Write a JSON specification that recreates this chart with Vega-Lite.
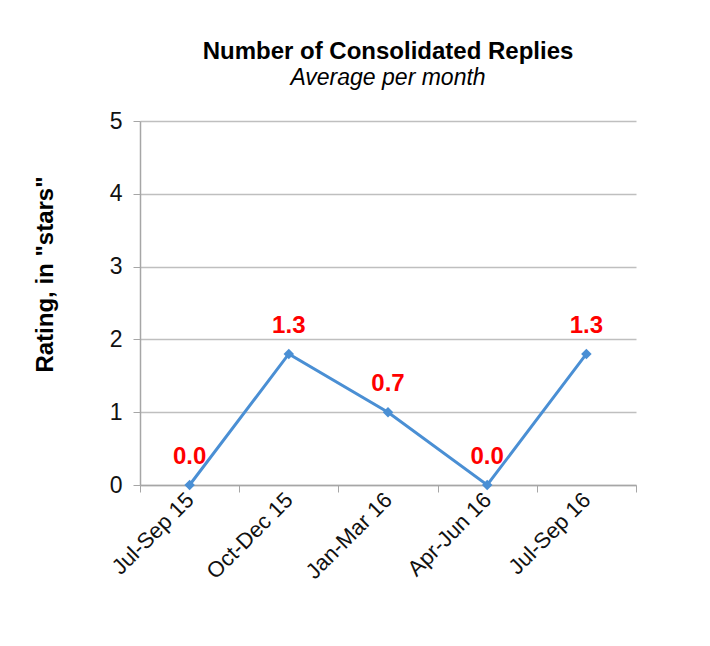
{
  "$schema": "https://vega.github.io/schema/vega-lite/v6.json",
  "width": 496,
  "height": 364,
  "autosize": {"type": "none"},
  "padding": {"left": 140, "top": 121, "right": 74, "bottom": 161},
  "background": "#ffffff",
  "title": {
    "text": "Number of Consolidated Replies",
    "subtitle": "Average per month",
    "font": "Liberation Sans",
    "fontSize": 24,
    "fontWeight": "bold",
    "color": "#000000",
    "subtitleFont": "Liberation Sans",
    "subtitleFontSize": 23,
    "subtitleFontStyle": "italic",
    "subtitleColor": "#000000",
    "subtitlePadding": 3,
    "anchor": "middle",
    "offset": 20
  },
  "data": {
    "values": [
      {"period": "Jul-Sep 15", "rating": 0, "label": "0.0"},
      {"period": "Oct-Dec 15", "rating": 1.8, "label": "1.3"},
      {"period": "Jan-Mar 16", "rating": 1.0, "label": "0.7"},
      {"period": "Apr-Jun 16", "rating": 0, "label": "0.0"},
      {"period": "Jul-Sep 16", "rating": 1.8, "label": "1.3"}
    ]
  },
  "encoding": {
    "x": {
      "field": "period",
      "type": "nominal",
      "sort": null,
      "scale": {"type": "band", "paddingInner": 0, "paddingOuter": 0},
      "axis": {
        "title": null,
        "labelAngle": -45,
        "labelAlign": "right",
        "labelBaseline": "middle",
        "labelFont": "Liberation Sans",
        "labelFontSize": 22,
        "labelColor": "#111111",
        "labelPadding": 4,
        "tickBand": "extent",
        "tickSize": 7,
        "tickColor": "#a6a6a6",
        "domainColor": "#a6a6a6",
        "domainWidth": 1.5,
        "grid": false
      }
    },
    "y": {
      "field": "rating",
      "type": "quantitative",
      "scale": {"domain": [0, 5]},
      "axis": {
        "title": "Rating, in \"stars\"",
        "titleFont": "Liberation Sans",
        "titleFontSize": 24,
        "titleFontWeight": "bold",
        "titleColor": "#000000",
        "titlePadding": 52,
        "titleY": 153,
        "values": [0, 1, 2, 3, 4, 5],
        "labelFont": "Liberation Sans",
        "labelFontSize": 23,
        "labelColor": "#111111",
        "labelPadding": 11,
        "tickSize": 7,
        "tickColor": "#a6a6a6",
        "domainColor": "#a6a6a6",
        "domainWidth": 1.5,
        "gridColor": "#bfbfbf",
        "gridWidth": 1.5
      }
    }
  },
  "layer": [
    {
      "mark": {"type": "line", "color": "#4a8fd4", "strokeWidth": 3, "point": {"shape": "diamond", "size": 110, "filled": true, "color": "#4a8fd4"}}
    },
    {
      "mark": {"type": "text", "dy": -28, "font": "Liberation Sans", "fontSize": 24, "fontWeight": "bold", "color": "#ff0000"},
      "encoding": {"text": {"field": "label"}}
    }
  ],
  "config": {"view": {"stroke": null}}
}
